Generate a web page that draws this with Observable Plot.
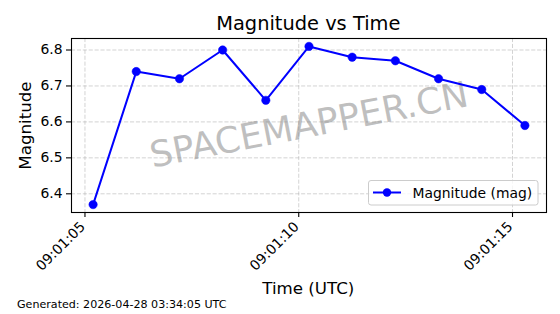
<!DOCTYPE html>
<html><head><meta charset="utf-8">
<script src="https://cdn.jsdelivr.net/npm/d3@7"></script>
<script src="https://cdn.jsdelivr.net/npm/@observablehq/plot@0.6"></script>
<style>
body{margin:0;background:#fff;}
#wrap{position:relative;width:560px;height:314px;font-family:"DejaVu Sans",sans-serif;}
#wrap svg{position:absolute;left:0;top:0;}
</style></head><body><div id="wrap"></div>
<script>
const times = ["2026-04-28T09:01:05.19Z","2026-04-28T09:01:06.20Z","2026-04-28T09:01:07.21Z","2026-04-28T09:01:08.22Z","2026-04-28T09:01:09.23Z","2026-04-28T09:01:10.24Z","2026-04-28T09:01:11.25Z","2026-04-28T09:01:12.26Z","2026-04-28T09:01:13.27Z","2026-04-28T09:01:14.28Z","2026-04-28T09:01:15.29Z"];
const magnitudes = [6.37, 6.74, 6.72, 6.80, 6.66, 6.81, 6.78, 6.77, 6.72, 6.69, 6.59];
const yTicks = [6.4, 6.5, 6.6, 6.7, 6.8];
const xTickLabels = ["2026-04-28T09:01:05Z","2026-04-28T09:01:10Z","2026-04-28T09:01:15Z"];
const titleText = "Magnitude vs Time";
const xLabel = "Time (UTC)";
const yLabel = "Magnitude";
const legendLabel = "Magnitude (mag)";
const footerText = "Generated: 2026-04-28 03:34:05 UTC";
const watermark = "SPACEMAPPER.CN";

const data = times.map((t, i) => ({time: new Date(t), mag: magnitudes[i]}));
const xTicks = xTickLabels.map(d => new Date(d));
const FONT = "DejaVu Sans, sans-serif";
const W = 560, H = 314;
const fmtTime = d3.utcFormat("%H:%M:%S");

const chart = Plot.plot({
  width: W, height: H,
  marginTop: 38, marginLeft: 71, marginRight: 14, marginBottom: 102,
  style: {fontFamily: FONT, fontSize: "13.9px", color: "black", background: "transparent"},
  x: {type: "utc", domain: [new Date("2026-04-28T09:01:04.685Z"), new Date("2026-04-28T09:01:15.795Z")]},
  y: {domain: [6.348, 6.832]},
  marks: [
    Plot.gridY(yTicks, {stroke: "#b0b0b0", strokeOpacity: 0.7, strokeWidth: 0.8, strokeDasharray: "4.1,1.8"}),
    Plot.gridX(xTicks, {stroke: "#b0b0b0", strokeOpacity: 0.7, strokeWidth: 0.8, strokeDasharray: "4.1,1.8"}),
    Plot.text([watermark], {text: d => d, frameAnchor: "middle", rotate: -11, fontSize: 36, fill: "gray", fillOpacity: 0.5}),
    Plot.line(data, {x: "time", y: "mag", stroke: "blue", strokeWidth: 2}),
    Plot.dot(data, {x: "time", y: "mag", r: 4.2, fill: "blue", stroke: "blue", strokeWidth: 0.5}),
    Plot.frame({stroke: "black", strokeWidth: 1.1}),
    Plot.axisY(yTicks, {tickFormat: d3.format(".1f"), tickSize: 5, tickPadding: 4, label: null, strokeWidth: 1.1}),
    Plot.axisX(xTicks, {tickFormat: () => "", tickSize: 5, label: null, strokeWidth: 1.1}),
    Plot.text(xTicks, {x: d => d, text: d => fmtTime(d), frameAnchor: "bottom", textAnchor: "end", lineAnchor: "bottom", rotate: -45, dx: 1, dy: 15, fontSize: 13.9, fill: "black"})
  ]
});
const wrap = document.getElementById("wrap");
wrap.appendChild(chart);

// overlay decorations
const ov = d3.select(wrap).append("svg").attr("width", W).attr("height", H)
  .style("font-family", FONT);
ov.append("text").attr("x", 308.3).attr("y", 29.5).attr("text-anchor", "middle")
  .attr("font-size", 19.4).text(titleText);
ov.append("text").attr("x", 308.3).attr("y", 294).attr("text-anchor", "middle")
  .attr("font-size", 16.67).text(xLabel);
ov.append("text").attr("transform", "translate(30.5,125.5) rotate(-90)").attr("text-anchor", "middle")
  .attr("font-size", 16.67).text(yLabel);
ov.append("text").attr("x", 17).attr("y", 308).attr("font-size", 11.1).text(footerText);
// legend
const lg = ov.append("g");
lg.append("rect").attr("x", 368.5).attr("y", 180.5).attr("width", 169.5).attr("height", 24.5)
  .attr("rx", 2.5).attr("fill", "white").attr("fill-opacity", 0.8).attr("stroke", "#cccccc").attr("stroke-width", 1);
lg.append("line").attr("x1", 373).attr("x2", 401).attr("y1", 192.5).attr("y2", 192.5).attr("stroke", "blue").attr("stroke-width", 2);
lg.append("circle").attr("cx", 387).attr("cy", 192.5).attr("r", 4.2).attr("fill", "blue");
lg.append("text").attr("x", 412.5).attr("y", 197.5).attr("font-size", 13.9).text(legendLabel);
</script></body></html>
